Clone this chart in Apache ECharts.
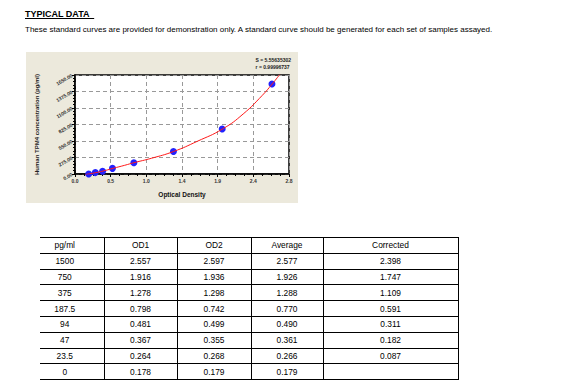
<!DOCTYPE html>
<html><head><meta charset="utf-8">
<script src="https://cdn.jsdelivr.net/npm/echarts@6/dist/echarts.min.js"></script>
<style>
html,body{margin:0;padding:0;background:#fff;width:567px;height:388px;overflow:hidden;font-family:"Liberation Sans",Arial,sans-serif;}
#chart{position:absolute;left:26px;top:52px;width:272px;height:151px;background:#ece9dc;}
#t1{position:absolute;left:25px;top:9px;font-size:9px;font-weight:bold;color:#000;text-decoration:underline;white-space:pre;}
#t2{position:absolute;left:25px;top:25px;font-size:8px;color:#000;white-space:nowrap;}
table{position:absolute;left:40px;top:237px;border-collapse:collapse;table-layout:fixed;width:418px;font-size:8.4px;color:#000;}
td{border-top:1px solid #000;border-bottom:1px solid #000;border-left:1.5px solid #000;border-right:1.5px solid #000;height:14.8px;padding:0;text-align:center;overflow:hidden;}
td.c0{border-left:none;padding-right:14px;}
</style></head>
<body>
<div id="t1">TYPICAL DATA  </div>
<div id="t2">These standard curves are provided for demonstration only. A standard curve should be generated for each set of samples assayed.</div>
<div id="chart"></div>
<table id="tbl"><colgroup><col style="width:64px"><col style="width:73px"><col style="width:74px"><col style="width:72px"><col style="width:135px"></colgroup></table>
<script>
// data
var concentrations = [0, 23.5, 47, 94, 187.5, 375, 750, 1500];
var averageOD = [0.179, 0.266, 0.361, 0.490, 0.770, 1.288, 1.926, 2.577];
// fitted curve
var curveX = [0.13, 0.2, 0.3, 0.4, 0.5, 0.65, 0.77, 1.0, 1.29, 1.6, 1.93, 2.2, 2.45, 2.58, 2.68];
var curveY = [-10, 5, 30, 60, 95, 145, 188, 262, 375, 545, 750, 1000, 1310, 1500, 1660];
var xTickLabels = ['0.0', '0.5', '1.0', '1.4', '1.9', '2.4', '2.8'];
var yTickLabels = ['0.00', '275.00', '550.00', '825.00', '1100.00', '1375.00', '1650.00'];
var annotation = ['S = 5.55635302', 'r = 0.99996737'];
// table
var tableHeader = ['pg/ml', 'OD1', 'OD2', 'Average', 'Corrected'];
var colPgml = ['1500', '750', '375', '187.5', '94', '47', '23.5', '0'];
var colOD1 = ['2.557', '1.916', '1.278', '0.798', '0.481', '0.367', '0.264', '0.178'];
var colOD2 = ['2.597', '1.936', '1.298', '0.742', '0.499', '0.355', '0.268', '0.179'];
var colAvg = ['2.577', '1.926', '1.288', '0.770', '0.490', '0.361', '0.266', '0.179'];
var colCorr = ['2.398', '1.747', '1.109', '0.591', '0.311', '0.182', '0.087', ''];

var tbl = document.getElementById('tbl');
function addRow(cells) {
  var tr = document.createElement('tr');
  cells.forEach(function (c, i) {
    var td = document.createElement('td');
    td.textContent = c;
    if (i === 0) td.className = 'c0';
    tr.appendChild(td);
  });
  tbl.appendChild(tr);
}
addRow(tableHeader);
for (var i = 0; i < colPgml.length; i++) addRow([colPgml[i], colOD1[i], colOD2[i], colAvg[i], colCorr[i]]);

var xInterval = 2.8 / 6;
var chart = echarts.init(document.getElementById('chart'), null, {renderer: 'svg'});
var lbl = {fontSize: 5, fontWeight: 'bold', color: '#333', fontFamily: 'Liberation Sans'};
chart.setOption({
  animation: false,
  backgroundColor: '#ece9dc',
  grid: {left: 49, top: 23, width: 214, height: 104, show: true, borderColor: '#000', borderWidth: 1.5, backgroundColor: '#fff'},
  xAxis: {
    type: 'value', min: 0, max: 2.8, interval: xInterval,
    name: 'Optical Density', nameLocation: 'middle', nameGap: 17,
    nameTextStyle: {fontSize: 6.5, fontWeight: 'bold', color: '#111', fontFamily: 'Liberation Sans'},
    axisLine: {lineStyle: {color: '#000', width: 1.5}},
    axisTick: {length: 3, lineStyle: {color: '#000'}},
    minorTick: {show: true, splitNumber: 4, length: 2, lineStyle: {color: '#000'}},
    splitLine: {lineStyle: {color: '#999', type: [4, 3], width: 1}},
    axisLabel: Object.assign({margin: 4, formatter: function (v) { return xTickLabels[Math.round(v / xInterval)]; }}, lbl)
  },
  yAxis: {
    type: 'value', min: 0, max: 1650, interval: 275,
    name: 'Human TPM4 concentration (pg/ml)', nameLocation: 'middle', nameGap: 35,
    nameTextStyle: {fontSize: 6, fontWeight: 'bold', color: '#222', fontFamily: 'Liberation Sans'},
    axisLine: {lineStyle: {color: '#000', width: 1.5}},
    axisTick: {length: 3, lineStyle: {color: '#000'}},
    minorTick: {show: true, splitNumber: 5, length: 2, lineStyle: {color: '#000'}},
    splitLine: {lineStyle: {color: '#999', type: [4, 3], width: 1}},
    axisLabel: Object.assign({margin: 3, rotate: 30, formatter: function (v) { return yTickLabels[Math.round(v / 275)]; }}, lbl)
  },
  graphic: [{
    type: 'text', right: 7, top: 5,
    style: {text: annotation.join('\n'), fontSize: 5, fontWeight: 'bold', fill: '#222', align: 'right', lineHeight: 6.5, fontFamily: 'Liberation Sans'}
  }],
  series: [{
    type: 'line', smooth: true, symbol: 'none', clip: true,
    data: curveX.map(function (x, i) { return [x, curveY[i]]; }),
    lineStyle: {color: '#ff1a1a', width: 1}, z: 3
  }, {
    type: 'scatter', symbolSize: 7,
    data: averageOD.map(function (x, i) { return [x, concentrations[i]]; }),
    itemStyle: {color: '#2222ff', opacity: 1}, z: 2
  }]
});
</script>
</body></html>
